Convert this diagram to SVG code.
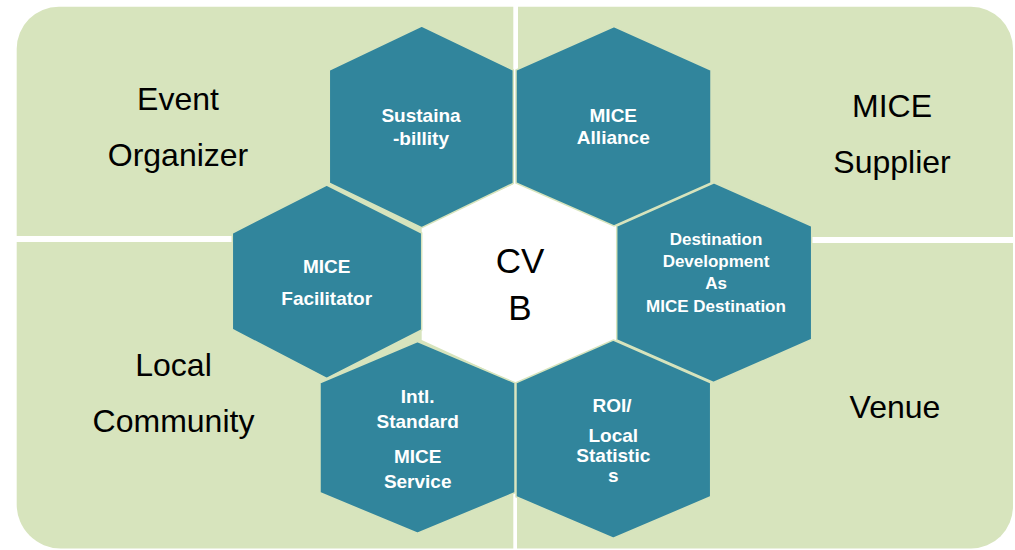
<svg xmlns="http://www.w3.org/2000/svg" width="1015" height="550" viewBox="0 0 1015 550">
<style>
.quad{fill:#d7e4bd}
.hex{fill:#31859c;stroke:#d7e4bd;stroke-width:1.5}
.lbl{font-family:"Liberation Sans",Arial,sans-serif;font-size:32px;fill:#000;text-anchor:middle}
.ht{font-family:"Liberation Sans",Arial,sans-serif;font-size:19px;font-weight:bold;fill:#fff;text-anchor:middle}
.hs{font-size:17px}
.cv{font-family:"Liberation Sans",Arial,sans-serif;font-size:35px;fill:#000;text-anchor:middle}
</style>
<rect width="1015" height="550" fill="#fff"/>
<g id="quadrants">
  <g id="event-organizer">
    <path class="quad" d="M16.7,48.7 A42,42 0 0 1 58.7,6.7 L513.3,6.7 L513.3,236 L16.7,236 Z"/>
    <text class="lbl" x="178" y="110">Event</text>
    <text class="lbl" x="178" y="165.7">Organizer</text>
  </g>
  <g id="mice-supplier">
    <path class="quad" d="M518,6.7 L971,6.7 A42,42 0 0 1 1013,48.7 L1013,237 L518,237 Z"/>
    <text class="lbl" x="892" y="116.7">MICE</text>
    <text class="lbl" x="892" y="172.7">Supplier</text>
  </g>
  <g id="local-community">
    <path class="quad" d="M16.7,242 L513.3,242 L513.3,548.5 L60.7,548.5 A44,44 0 0 1 16.7,504.5 Z"/>
    <text class="lbl" x="173.5" y="376">Local</text>
    <text class="lbl" x="173.5" y="431.7">Community</text>
  </g>
  <g id="venue">
    <path class="quad" d="M517,243 L1013,243 L1013,506.5 A42,42 0 0 1 971,548.5 L517,548.5 Z"/>
    <text class="lbl" x="895" y="418.3">Venue</text>
  </g>
</g>
<g id="connectors"/>
<g id="cvb">
  <polygon fill="#fff" points="516,183 616.7,226 616.7,340 515,383 421.7,340 421.7,226"/>
  <text class="cv" x="520" y="273">CV</text>
  <text class="cv" x="520" y="320">B</text>
</g>
<g id="sustainability">
  <polygon class="hex" points="421.7,26 513.3,70 513.3,183.3 421.7,227.7 329.3,183.3 329.3,70"/>
  <text class="ht" x="421" y="121.7">Sustaina</text>
  <text class="ht" x="421" y="144.5">-billity</text>
</g>
<g id="mice-alliance">
  <polygon class="hex" points="614,26.5 711,70 711,183 614,226 516,183 516,70"/>
  <text class="ht" x="613.3" y="121.7">MICE</text>
  <text class="ht" x="613.3" y="144">Alliance</text>
</g>
<g id="destination-development">
  <polygon class="hex" points="714,182.7 811.7,226 811.7,339.5 713.5,382.5 616.7,340 616.7,226"/>
  <text class="ht hs" x="716" y="245">Destination</text>
  <text class="ht hs" x="716" y="266.5">Development</text>
  <text class="ht hs" x="716" y="289.3">As</text>
  <text class="ht hs" x="716" y="311.7">MICE Destination</text>
</g>
<g id="roi-local-statistics">
  <polygon class="hex" points="613.3,340 710.7,382.7 710.7,496.7 613.3,538.3 516,496.7 516,382.7"/>
  <text class="ht" x="612" y="411.7">ROI/</text>
  <text class="ht" x="613.3" y="441.7">Local</text>
  <text class="ht" x="613.3" y="461.7">Statistic</text>
  <text class="ht" x="613.3" y="481.7">s</text>
</g>
<g id="intl-standard-mice-service">
  <polygon class="hex" points="417.5,341.5 515,382.7 515,492.7 417.5,533.3 320,492.7 320,382.7"/>
  <text class="ht" x="417.7" y="403.3">Intl.</text>
  <text class="ht" x="417.7" y="428.3">Standard</text>
  <text class="ht" x="417.7" y="463.3">MICE</text>
  <text class="ht" x="417.7" y="488.3">Service</text>
</g>
<g id="mice-facilitator">
  <polygon class="hex" points="326.7,185 421.7,233 421.7,330 326.7,378.3 232.3,329.5 232.3,233"/>
  <text class="ht" x="326.7" y="273">MICE</text>
  <text class="ht" x="326.7" y="305">Facilitator</text>
</g>
</svg>
